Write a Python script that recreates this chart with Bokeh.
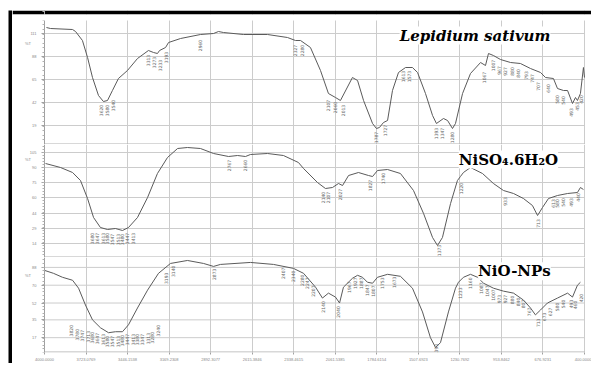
import numpy as np
from bokeh.plotting import figure
from bokeh.layouts import column, row, Spacer
from bokeh.models import (ColumnDataSource, FixedTicker, Label, Range1d,
                          BoxAnnotation, LinearAxis)
from bokeh.core.properties import value
from bokeh.embed import file_html
from bokeh.resources import INLINE

# ---------------- data ----------------
x_tick_labels = ["4000.0000", "3723.0769", "3446.1538", "3169.2308", "2892.3077",
                 "2615.3846", "2338.4615", "2061.5385", "1784.6154", "1507.6923",
                 "1230.7692", "953.8462", "676.9231", "400.0000"]

p1_wn = [3987, 3960, 3813, 3793, 3747, 3713, 3680, 3640, 3607, 3580,
         3547, 3507, 3447, 3380, 3307, 3273, 3247, 3233, 3193, 3173,
         3093, 2960, 2873, 2840, 2807, 2673, 2513, 2380, 2327, 2293,
         2227, 2160, 2107, 2060, 2027, 1947, 1913, 1873, 1813, 1787,
         1767, 1740, 1713, 1680, 1640, 1593, 1547, 1513, 1460, 1413,
         1387, 1340, 1313, 1280, 1260, 1213, 1160, 1093, 1060, 1040,
         1007, 960, 893, 827, 760, 693, 660, 607, 580, 540,
         513, 480, 460, 447, 427, 407, 400]
p1_T = [117, 116, 115, 113, 104, 87, 67, 49, 43, 44,
        54, 66, 74, 86, 94, 92, 91, 94, 97, 102,
        106, 110, 111, 113, 112, 110, 110, 107, 104, 104,
        97, 74, 51, 47, 44, 67, 64, 44, 21, 16,
        17, 22, 24, 54, 72, 77, 77, 72, 51, 29,
        21, 26, 24, 16, 21, 51, 71, 82, 79, 91,
        89, 85, 82, 81, 76, 72, 67, 66, 56, 54,
        54, 41, 47, 44, 51, 77, 67]

p2_wn = [3993, 3893, 3813, 3760, 3713, 3673, 3627, 3580, 3527, 3480,
         3440, 3380, 3313, 3247, 3180, 3113, 3047, 2960, 2873, 2773,
         2713, 2660, 2627, 2513, 2407, 2307, 2273, 2180, 2127, 2080,
         2040, 2013, 1973, 1907, 1840, 1813, 1780, 1713, 1627, 1540,
         1473, 1413, 1380, 1347, 1293, 1247, 1227, 1207, 1160, 1080,
         1007, 940, 873, 807, 747, 713, 680, 640, 580, 513,
         447, 427, 407]
p2_T = [94, 90, 85, 77, 59, 40, 30, 28, 29, 27,
        30, 40, 60, 84, 100, 109, 110, 109, 104, 101,
        102, 101, 103, 104, 102, 95, 89, 75, 69, 70,
        74, 72, 82, 85, 82, 81, 87, 88, 84, 67,
        44, 20, 12, 20, 54, 77, 81, 85, 90, 84,
        74, 67, 64, 59, 52, 42, 50, 59, 62, 64,
        65, 70, 68]

p3_wn = [4000, 3940, 3880, 3813, 3773, 3727, 3680, 3627, 3573, 3527,
         3480, 3440, 3380, 3313, 3240, 3160, 3047, 2940, 2873, 2827,
         2627, 2473, 2340, 2273, 2193, 2147, 2107, 2060, 2033, 2007,
         1947, 1913, 1880, 1847, 1813, 1780, 1713, 1627, 1547, 1480,
         1427, 1393, 1360, 1307, 1260, 1240, 1207, 1160, 1113, 1073,
         1007, 940, 873, 807, 760, 727, 693, 647, 580, 513,
         480, 447, 427]
p3_T = [85, 82, 78, 75, 67, 50, 35, 27, 22, 23,
        23, 30, 47, 65, 82, 92, 95, 92, 89, 91,
        93, 91, 87, 82, 68, 57, 62, 58, 52, 68,
        77, 80, 78, 73, 72, 78, 81, 79, 67, 43,
        17, 7, 12, 43, 67, 73, 78, 81, 78, 72,
        67, 64, 62, 55, 47, 40, 45, 52, 57, 62,
        58, 70, 73]

p1_lab_wn = [3620, 3580, 3540, 3313, 3273, 3233, 3193, 2960, 2327, 2280,
             2107, 2060, 2013, 1787, 1727, 1613, 1573, 1393, 1347, 1280,
             1067, 1007, 967, 927, 880, 840, 793, 747, 707, 640,
             580, 540, 493, 453, 420]
p1_lab_T = [34, 34, 39, 84, 82, 79, 87, 99, 94, 94,
            39, 37, 34, 7, 14, 68, 68, 11, 11, 7,
            67, 79, 74, 73, 73, 71, 69, 66, 58, 56,
            45, 44, 32, 38, 45]

p2_lab_wn = [3680, 3647, 3613, 3580, 3547, 3513, 3480, 3447, 3413, 2767,
             2660, 2140, 2107, 2027, 1827, 1740, 1373, 1220, 933, 713,
             613, 580, 540, 493, 440]
p2_lab_T = [19, 19, 19, 19, 18, 18, 18, 19, 19, 92,
            92, 60, 60, 63, 72, 79, 7, 69, 56, 34,
            54, 54, 55, 55, 60]

p3_lab_wn = [3820, 3780, 3747, 3713, 3680, 3647, 3613, 3580, 3547, 3513,
             3480, 3447, 3413, 3380, 3347, 3313, 3280, 3240, 3193, 3140,
             2873, 2407, 2340, 2280, 2247, 2207, 2140, 2040, 1967, 1927,
             1887, 1847, 1807, 1753, 1673, 1393, 1233, 1160, 1087, 1047,
             1007, 973, 927, 880, 840, 807, 767, 713, 673, 627,
             580, 540, 493, 460, 420]
p3_lab_T = [24, 20, 19, 18, 17, 16, 15, 13, 13, 13,
            14, 15, 15, 15, 15, 16, 17, 24, 77, 84,
            81, 82, 79, 75, 72, 64, 48, 43, 68, 72,
            72, 65, 64, 72, 73, 5, 62, 72, 67, 64,
            60, 56, 56, 55, 53, 51, 43, 32, 38, 43,
            48, 51, 51, 50, 57]

p1_yticks = [19, 42, 65, 88, 111]
p2_yticks = [14, 29, 44, 60, 75, 90, 105]
p3_yticks = [17, 35, 52, 70, 88]

titles = ["Lepidium sativum", "NiSO\u2084.6H\u2082O", "NiO-NPs"]

# ---------------- styling ----------------
x_ticks = [float(s) for s in x_tick_labels]
X_LEFT, X_RIGHT = 4213.33, 353.33      # frame spans page x 12..591 (axis at 4000)
GRID = "#cccccc"
EDGE = "#b0b0b0"
LINE = "#5a5a5a"
W = 579


def panel(height, yr, yticks, wn, T, lab_wn, lab_T, title, title_pos, title_style,
          bottom_axis, bottom_border):
    p = figure(width=W, height=height, x_range=Range1d(X_LEFT, X_RIGHT),
               y_range=Range1d(*yr), output_backend="svg", toolbar_location=None,
               x_axis_location="below" if bottom_axis else None,
               min_border_left=0, min_border_right=0,
               min_border_top=0, min_border_bottom=bottom_border)
    p.outline_line_color = None
    p.background_fill_color = "white"
    p.border_fill_color = "white"
    p.xgrid.ticker = FixedTicker(ticks=x_ticks)
    p.xgrid.grid_line_color = GRID
    p.ygrid.visible = False
    # horizontal grid lines only over the data area
    p.segment(x0=[x_ticks[0]] * len(yticks), y0=yticks,
              x1=[x_ticks[-1]] * len(yticks), y1=yticks,
              line_color=GRID, line_width=1)
    # lower edge of the panel
    p.segment(x0=[x_ticks[0]], y0=[yr[0] + 0.5], x1=[x_ticks[-1]], y1=[yr[0] + 0.5],
              line_color=EDGE, line_width=1)

    step = (yticks[1] - yticks[0]) / 5.0
    minors = list(np.arange(yr[0], yr[1], step))
    ya = p.yaxis[0]
    ya.ticker = FixedTicker(ticks=yticks, minor_ticks=minors)
    ya.fixed_location = x_ticks[0]
    ya.axis_line_color = "#a0a0a0"
    ya.major_tick_line_color = "#a0a0a0"
    ya.minor_tick_line_color = "#b0b0b0"
    ya.major_tick_out = 3
    ya.major_tick_in = 0
    ya.minor_tick_out = 2
    ya.minor_tick_in = 0
    ya.major_label_text_font_size = "4px"
    ya.major_label_text_color = "#888888"
    ya.major_label_standoff = 5
    if bottom_axis:
        xa = p.xaxis[0]
        xa.ticker = FixedTicker(ticks=x_ticks)
        xa.major_label_overrides = {t: s for t, s in zip(x_ticks, x_tick_labels)}
        xa.axis_line_color = None
        xa.major_tick_line_color = "#a0a0a0"
        xa.minor_tick_line_color = None
        xa.major_tick_out = 2
        xa.major_tick_in = 0
        xa.major_label_text_font_size = "4px"
        xa.major_label_text_color = "#888888"
        xa.major_label_standoff = 3

    p.line(wn, T, line_color=LINE, line_width=1)
    src = ColumnDataSource(dict(x=lab_wn, y=lab_T, t=[str(v) for v in lab_wn]))
    p.text(x="x", y="y", text="t", source=src, angle=np.pi / 2,
           text_font_size="4.5px", text_color="#666666",
           text_align="center", text_baseline="middle",
           text_font=value("DejaVu Sans"))

    p.add_layout(Label(x=4110, y=yticks[-1] - (yticks[1] - yticks[0]) * 0.45,
                       text="%T", text_font_size="4px", text_color="#888888",
                       text_align="center", text_baseline="middle"))
    p.add_layout(Label(x=title_pos[0], y=title_pos[1], text=title,
                       text_font="DejaVu Serif", text_font_size="15px",
                       text_font_style=title_style, text_color="black",
                       text_align="center", text_baseline="alphabetic",
                       background_fill_color="white"))
    return p


def bar(w, h):
    b = figure(width=w, height=h, output_backend="svg", toolbar_location=None,
               x_axis_location=None, y_axis_location=None,
               min_border=0, min_border_left=0, min_border_right=0,
               min_border_top=0, min_border_bottom=0,
               x_range=Range1d(0, 1), y_range=Range1d(0, 1))
    b.grid.visible = False
    b.outline_line_color = None
    b.background_fill_color = "black"
    b.border_fill_color = "black"
    return b


p1 = panel(134, (0, 134), p1_yticks, p1_wn, p1_T, p1_lab_wn, p1_lab_T,
           titles[0], (1130, 109), "bold italic", False, 0)
p2 = panel(113, (0, 113), p2_yticks, p2_wn, p2_T, p2_lab_wn, p2_lab_T,
           titles[1], (907, 98), "bold", False, 0)
p3 = panel(106, (2, 98), p3_yticks, p3_wn, p3_T, p3_lab_wn, p3_lab_T,
           titles[2], (867, 84), "bold", True, 10)

# white gap between the outer frame and the top of the first panel
p1.add_layout(BoxAnnotation(bottom=124, top=130, fill_color="white", fill_alpha=1.0,
                            line_color=None))
# thick black top rule of the outer frame
top_rule = LinearAxis(fixed_location=132, ticker=FixedTicker(ticks=[]),
                      axis_line_color="black", axis_line_width=4,
                      major_tick_line_color=None, minor_tick_line_color=None,
                      major_label_text_font_size="0px")
p1.add_layout(top_rule, "above")

panels = column(p1, p2, p3, spacing=0)
layout = column(Spacer(height=10, width=10),
                row(Spacer(width=8, height=10), bar(4, 134 + 113 + 106), panels,
                    spacing=0),
                spacing=0)

open("out.html", "w").write(file_html(layout, INLINE))
